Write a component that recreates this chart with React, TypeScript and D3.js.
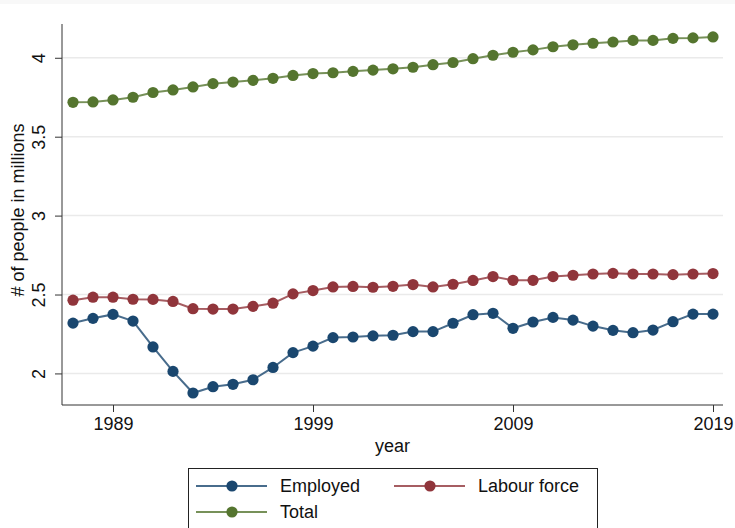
import React, { useEffect, useRef } from "react";
import * as d3 from "d3";

const width = 735;
const height = 528;

const years = d3.range(1987, 2020);

const employed = [
  2.319, 2.349, 2.374, 2.332, 2.168, 2.013, 1.876, 1.916, 1.931, 1.96, 2.038,
  2.132, 2.173, 2.227, 2.231, 2.238, 2.242, 2.265, 2.265, 2.318, 2.372, 2.381,
  2.286, 2.326, 2.355, 2.338, 2.3, 2.273, 2.258, 2.275, 2.328, 2.376, 2.376,
];
const labourForce = [
  2.464, 2.483, 2.483, 2.47, 2.469, 2.456, 2.41, 2.408, 2.408, 2.425, 2.445,
  2.504, 2.525, 2.548, 2.551, 2.546, 2.552, 2.563, 2.548, 2.565, 2.589, 2.614,
  2.59, 2.59, 2.614, 2.622, 2.63, 2.634, 2.63, 2.63, 2.626, 2.63, 2.633,
];
const total = [
  3.718, 3.72, 3.733, 3.75, 3.78, 3.796, 3.815, 3.836, 3.846, 3.857, 3.87,
  3.888, 3.9, 3.905, 3.914, 3.922, 3.93, 3.94, 3.956, 3.97, 3.994, 4.016,
  4.035, 4.05, 4.07, 4.082, 4.092, 4.1, 4.11, 4.11, 4.123, 4.126, 4.132,
];

const yTicks = [2, 2.5, 3, 3.5, 4];
const xTicks = [1989, 1999, 2009, 2019];

const seriesData = [
  { title: "Employed", color: "#1a476f", values: employed },
  { title: "Labour force", color: "#90353b", values: labourForce },
  { title: "Total", color: "#55752f", values: total },
];

const font = "Liberation Sans, Arial, sans-serif";
const fontSize = 18;

const App = () => {
  const chart = useRef<SVGSVGElement>(null);

  useEffect(() => {
    const svg = d3.select(chart.current);
    svg.selectAll("*").remove();

    const left = 62;
    const right = 723;
    const top = 24;
    const bottom = 405;

    const x = d3.scaleLinear().domain([1986.45, 2019.5]).range([left, right]);
    const y = d3.scaleLinear().domain([1.8, 4.214]).range([bottom, top]);

    // top grey strip
    svg.append("rect").attr("width", width).attr("height", 4).attr("fill", "#f8f8f8");

    // gridlines
    svg
      .append("g")
      .selectAll("line")
      .data(yTicks)
      .join("line")
      .attr("x1", left)
      .attr("x2", right)
      .attr("y1", (d) => y(d))
      .attr("y2", (d) => y(d))
      .attr("stroke", "#eaeaea")
      .attr("stroke-width", 1.5);

    // y axis
    const yAxis = svg
      .append("g")
      .attr("transform", `translate(${left},0)`)
      .call(d3.axisLeft(y).tickValues(yTicks).tickSize(7).tickFormat((d) => `${d}`));
    yAxis.select(".domain").attr("d", `M0,${top}V${bottom}`).attr("stroke", "#333");
    yAxis.selectAll(".tick line").attr("stroke", "#333");
    yAxis
      .selectAll(".tick text")
      .attr("transform", "rotate(-90)")
      .attr("x", 0)
      .attr("y", -17)
      .attr("dy", 0)
      .attr("text-anchor", "middle")
      .attr("font-size", fontSize)
      .attr("font-family", font)
      .attr("fill", "#111");

    // x axis
    const xAxis = svg
      .append("g")
      .attr("transform", `translate(0,${bottom})`)
      .call(d3.axisBottom(x).tickValues(xTicks).tickSize(7).tickFormat((d) => `${d}`));
    xAxis.select(".domain").attr("d", `M${left},0H${right}`).attr("stroke", "#333");
    xAxis.selectAll(".tick line").attr("stroke", "#333");
    xAxis
      .selectAll(".tick text")
      .attr("y", 25)
      .attr("dy", 0)
      .attr("font-size", fontSize)
      .attr("font-family", font)
      .attr("fill", "#111");

    // axis titles
    svg
      .append("text")
      .text("year")
      .attr("x", (left + right) / 2)
      .attr("y", 452)
      .attr("text-anchor", "middle")
      .attr("font-size", fontSize)
      .attr("font-family", font)
      .attr("fill", "#111");

    svg
      .append("text")
      .text("# of people in millions")
      .attr("transform", `translate(24,210) rotate(-90)`)
      .attr("text-anchor", "middle")
      .attr("font-size", fontSize)
      .attr("font-family", font)
      .attr("fill", "#111");

    // series
    const line = d3
      .line<number>()
      .x((d, i) => x(years[i]))
      .y((d) => y(d));

    const series = svg
      .append("g")
      .selectAll("g")
      .data(seriesData)
      .join("g");

    series
      .append("path")
      .attr("d", (d) => line(d.values))
      .attr("fill", "none")
      .attr("stroke", (d) => d.color)
      .attr("stroke-opacity", 0.8)
      .attr("stroke-width", 2);

    series
      .selectAll("circle")
      .data((d) => d.values.map((v, i) => ({ v, i, color: d.color })))
      .join("circle")
      .attr("cx", (d) => x(years[d.i]))
      .attr("cy", (d) => y(d.v))
      .attr("r", 5.6)
      .attr("fill", (d) => d.color);

    // legend
    const legend = svg.append("g");
    legend
      .append("rect")
      .attr("x", 188.5)
      .attr("y", 468.5)
      .attr("width", 409)
      .attr("height", 80)
      .attr("fill", "white")
      .attr("stroke", "#222")
      .attr("stroke-width", 1);

    const legendPos = [
      { lx: 196, cy: 486 },
      { lx: 394, cy: 486 },
      { lx: 196, cy: 512 },
    ];

    const items = legend
      .selectAll("g")
      .data(seriesData)
      .join("g")
      .attr("transform", (d, i) => `translate(${legendPos[i].lx},${legendPos[i].cy})`);

    items
      .append("line")
      .attr("x1", 0)
      .attr("x2", 71)
      .attr("stroke", (d) => d.color)
      .attr("stroke-opacity", 0.8)
      .attr("stroke-width", 2);

    items
      .append("circle")
      .attr("cx", 36)
      .attr("r", 5.6)
      .attr("fill", (d) => d.color);

    items
      .append("text")
      .text((d) => d.title)
      .attr("x", 84)
      .attr("dy", "0.35em")
      .attr("font-size", fontSize)
      .attr("font-family", font)
      .attr("fill", "#111");
  }, []);

  return (
    <div style={{ position: "absolute", left: 0, top: 0 }}>
      <svg ref={chart} width={width} height={height} style={{ display: "block", background: "white" }}></svg>
    </div>
  );
};

export default App;
